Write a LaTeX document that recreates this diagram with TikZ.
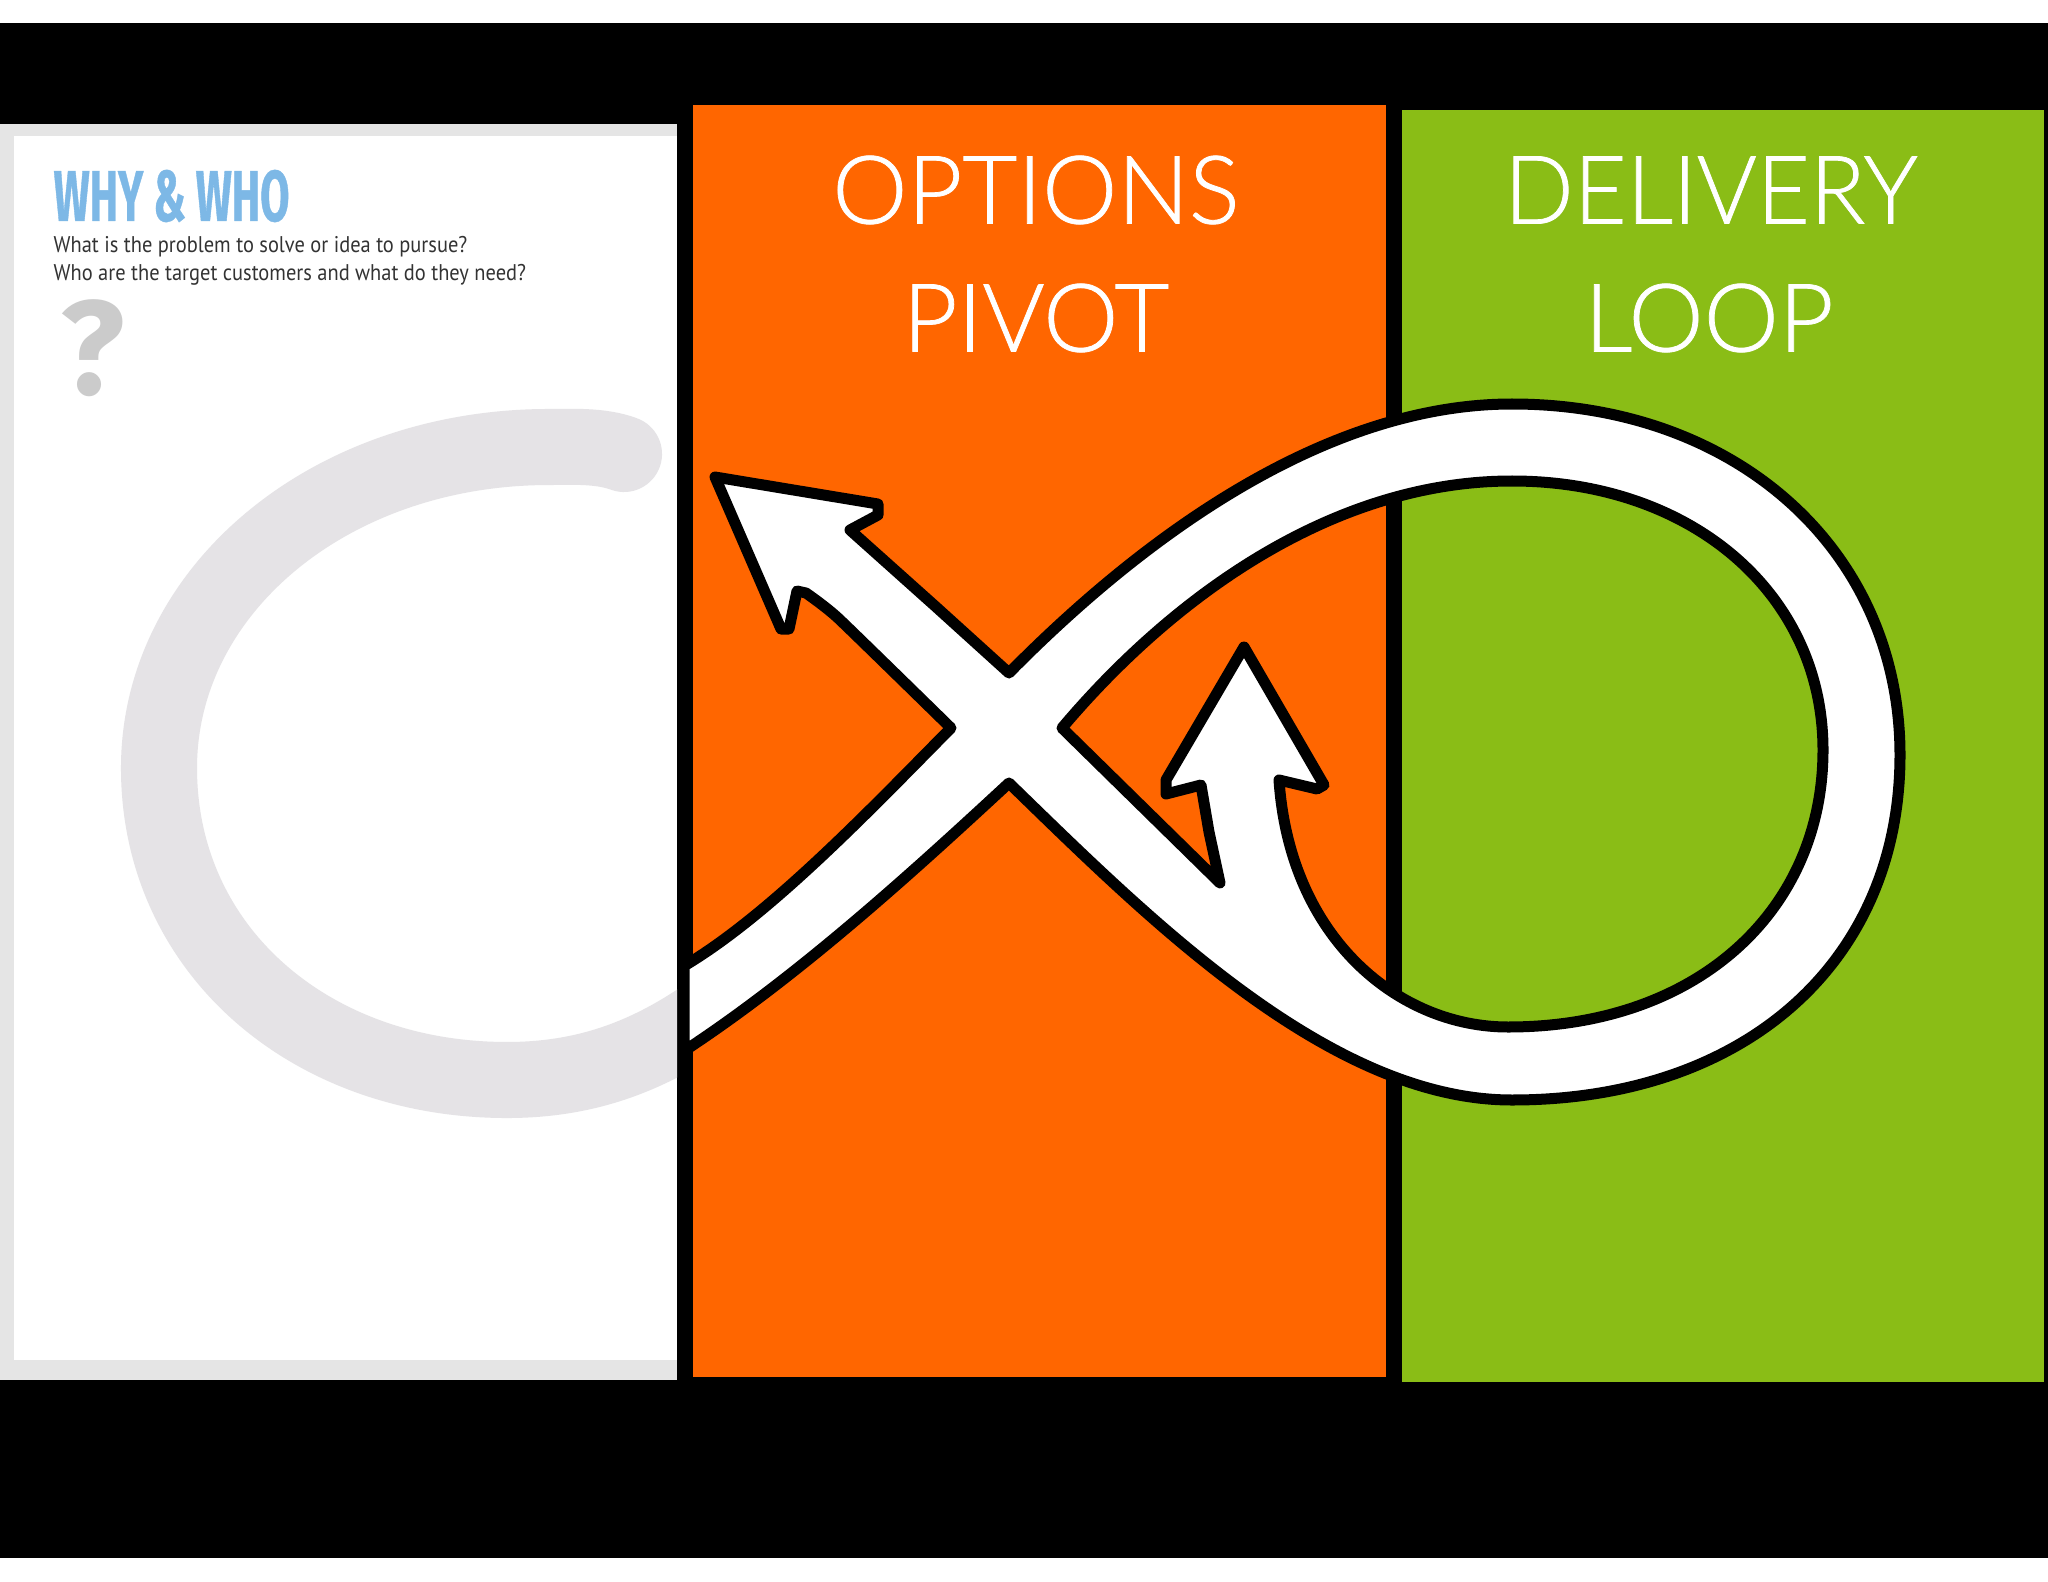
\documentclass[tikz,border=0pt]{standalone}
\usepackage{fontspec}
\usepackage{xcolor}
\usetikzlibrary{positioning}
\newfontfamily\headfont[FakeBold=0.8]{Lato Light}
\newfontfamily\deliveryfont[FakeBold=0.8,FakeStretch=.963]{Lato Light}
\newfontfamily\whyfont[FakeStretch=.59,FakeBold=0.5]{Fira Sans Bold}
\newfontfamily\bodyfont[FakeStretch=.9]{PT Sans}
\newfontfamily\markfont{Fira Sans Bold}
\definecolor{pivotorange}{HTML}{FF6600}
\definecolor{loopgreen}{HTML}{8ABD16}
\definecolor{framegrey}{HTML}{E5E5E5}
\definecolor{swirlgrey}{HTML}{E5E3E6}
\definecolor{markgrey}{HTML}{CBCBCB}
\definecolor{whyblue}{HTML}{7DB8E6}
\begin{document}
\begin{tikzpicture}[x=0.01cm, y=-0.01cm,
  headnode/.style={font=\headfont\fontsize{27}{30}\selectfont, text=white, inner sep=0pt},
  bodynode/.style={font=\bodyfont\fontsize{6.46}{7}\selectfont, text=black!80, inner sep=0pt, anchor=base west},
  looparrow/.style={draw=black, fill=white, line width=0.11cm, line join=round, even odd rule}]
  \useasboundingbox (0,0) rectangle (2048,1582);
  \fill[white] (0,0) rectangle (2048,1582);
  \fill[black] (0,23) rectangle (2048,1558);
  \fill[framegrey] (0,124) rectangle (677,1380);
  \fill[white] (14,136) rectangle (677,1360);
  \fill[pivotorange] (693,105) rectangle (1386,1377);
  \fill[loopgreen] (1402,110) rectangle (2044,1382);
  \begin{scope}
    \clip (14,136) rectangle (677,1360);
    \draw[swirlgrey, line width=0.76cm, line cap=round]
      (624,454) .. controls (600,445) and (570,447) .. (549,447)
      .. controls (330,447) and (159,590) .. (159,768)
      .. controls (159,950) and (310,1080) .. (507,1080)
      .. controls (580,1080) and (640,1060) .. (700,1020);
  \end{scope}
  \node[font=\whyfont\fontsize{20.5}{22}\selectfont, text=whyblue, inner sep=0pt, anchor=base west] (whywho) at (53,221) {WHY \& WHO};
  \node[bodynode] (whatline) at (53,252) {What is the problem to solve or idea to pursue?};
  \node[bodynode] (wholine) at (53,281) {Who are the target customers and what do they need?};
  \node[font=\markfont\fontsize{38}{40}\selectfont, text=markgrey, inner sep=0pt, anchor=base west] (mark) at (60,394) {?};
  \node[headnode] (options) at (1036,190) {OPTIONS};
  \node[headnode] (pivot) at (1036,318) {PIVOT};
  \node[headnode, font=\deliveryfont\fontsize{27}{30}\selectfont] (delivery) at (1711,190) {DELIVERY};
  \node[headnode] (deliveryloop) at (1709,318) {LOOP};
  \draw[looparrow]
    (684,966) .. controls (770,915) and (870,810) .. (951,728)
    -- plot[smooth, tension=.3] coordinates {(951,728) (838,618) (806,593)}
    -- (797,591) -- (789,629) -- (781,629) -- (715,477) -- (878,504) -- (878,515) -- (850,530)
    -- (935,606) -- (1009,673)
    .. controls (1150,530) and (1330,404) .. (1512,404)
    .. controls (1737,404) and (1900,551) .. (1900,755)
    .. controls (1900,962) and (1745,1100) .. (1512,1100)
    .. controls (1330,1100) and (1150,920) .. (1009,783)
    .. controls (915,870) and (800,975) .. (684,1051)
    -- cycle
    (1062,728)
    .. controls (1170,600) and (1330,481) .. (1512,481)
    .. controls (1692,481) and (1823,594) .. (1823,750)
    .. controls (1823,910) and (1698,1027) .. (1508,1027)
    .. controls (1400,1027) and (1290,940) .. (1279,780)
    -- (1317,789) -- (1324,785) -- (1244,647) -- (1166,780) -- (1166,794) -- (1201,785)
    -- (1209,832) -- (1220,883) -- cycle;
\end{tikzpicture}
\end{document}
